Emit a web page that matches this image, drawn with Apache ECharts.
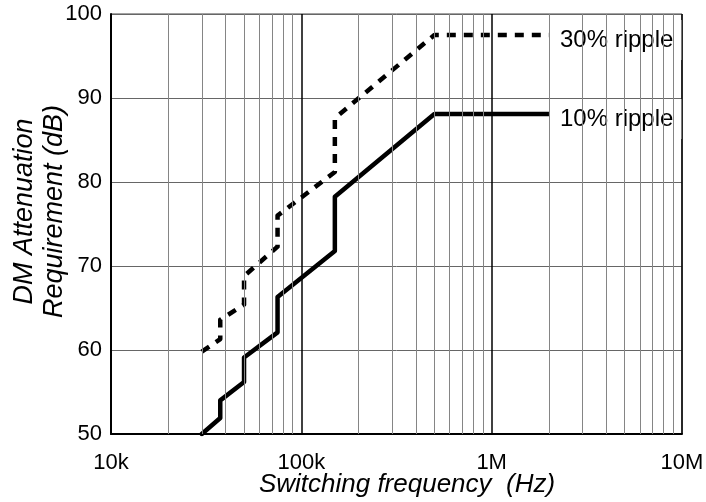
<!DOCTYPE html>
<html>
<head>
<meta charset="utf-8">
<script src="https://cdn.jsdelivr.net/npm/echarts@6/dist/echarts.min.js"></script>
<style>
html,body{margin:0;padding:0;background:#fff;}
#chart{width:706px;height:502px;}
</style>
</head>
<body>
<div id="chart"></div>
<script>
// Data (frequency in Hz, attenuation in dB)
var ripple10 = [
  [30000, 50.0], [37500, 51.9], [37500, 54.0], [50000, 56.2], [50000, 59.1],
  [75000, 62.1], [75000, 66.3], [150000, 71.8], [150000, 78.25],
  [500000, 88.1], [2000000, 88.1]
];
var ripple30 = [
  [30000, 59.8], [37500, 61.3], [37500, 63.6], [50000, 65.4], [50000, 68.8],
  [75000, 72.3], [75000, 76.0], [150000, 81.2], [150000, 87.6],
  [500000, 97.5], [2000000, 97.5]
];
var seriesNames = ['10% ripple', '30% ripple'];
var xTickValues = [10000, 100000, 1000000, 10000000];
var xTickLabels = ['10k', '100k', '1M', '10M'];
var minorGridFreqs = [
  20000, 30000, 40000, 50000, 60000, 70000, 80000, 90000,
  200000, 300000, 400000, 500000, 600000, 700000, 800000, 900000,
  2000000, 3000000, 4000000, 5000000, 6000000, 7000000, 8000000, 9000000
];
var yTicks = [50, 60, 70, 80, 90, 100];

var FONT = 'Liberation Sans, Arial, sans-serif';
var chart = echarts.init(document.getElementById('chart'), null, {renderer: 'canvas'});

var option = {
  animation: false,
  backgroundColor: '#fff',
  grid: {
    left: 111, right: 24, top: 14, bottom: 68,
    containLabel: false, outerBoundsMode: 'none',
    show: true, borderColor: '#444', borderWidth: 1
  },
  xAxis: {
    type: 'log', logBase: 10, min: xTickValues[0], max: xTickValues[xTickValues.length - 1],
    name: 'Switching frequency  (Hz)',
    nameLocation: 'middle', nameGap: 38, nameMoveOverlap: false,
    nameTextStyle: {fontFamily: FONT, fontSize: 26, fontStyle: 'italic', color: '#000', padding: [0, 0, 0, 21]},
    axisLine: {show: true, lineStyle: {color: '#000', width: 2}},
    axisTick: {show: false},
    axisLabel: {
      fontFamily: FONT, fontSize: 22, color: '#000', margin: 18,
      formatter: function (v) {
        var i = xTickValues.indexOf(Math.round(v));
        return i >= 0 ? xTickLabels[i] : '';
      }
    },
    splitLine: {show: true, lineStyle: {color: '#000', width: 1.5}}
  },
  yAxis: {
    type: 'value', min: yTicks[0], max: yTicks[yTicks.length - 1], interval: 10,
    name: 'DM Attenuation\nRequirement (dB)',
    nameLocation: 'middle', nameGap: 42, nameMoveOverlap: false,
    nameTextStyle: {fontFamily: FONT, fontSize: 27, fontStyle: 'italic', color: '#000', lineHeight: 30, padding: [0, 0, 0, 25]},
    axisLine: {show: true, lineStyle: {color: '#000', width: 2}},
    axisTick: {show: false},
    axisLabel: {fontFamily: FONT, fontSize: 22, color: '#000', margin: 9},
    splitLine: {show: true, lineStyle: {color: '#666', width: 1}}
  },
  series: [
    {
      type: 'line', name: 'minorGrid', data: [], z: 1, silent: true,
      markLine: {
        silent: true, symbol: 'none', animation: false,
        label: {show: false},
        lineStyle: {color: '#858585', width: 1, type: 'solid'},
        data: minorGridFreqs.map(function (f) { return {xAxis: f}; })
      }
    },
    {
      type: 'line', name: seriesNames[0], data: ripple10, z: 3,
      showSymbol: false, symbol: 'none',
      lineStyle: {color: '#000', width: 4.5, join: 'round', cap: 'round'},
      endLabel: {
        show: true, formatter: seriesNames[0], distance: 0, offset: [0, 5],
        fontFamily: FONT, fontSize: 24, color: '#000',
        backgroundColor: '#fff', padding: [8, 8, 8, 11], lineHeight: 24
      }
    },
    {
      type: 'line', name: seriesNames[1], data: ripple30, z: 3,
      showSymbol: false, symbol: 'none',
      lineStyle: {color: '#000', width: 4.5, type: [9, 8], cap: 'butt', join: 'round'},
      endLabel: {
        show: true, formatter: seriesNames[1], distance: 0, offset: [0, 5],
        fontFamily: FONT, fontSize: 24, color: '#000',
        backgroundColor: '#fff', padding: [8, 8, 8, 11], lineHeight: 24
      }
    }
  ]
};
chart.setOption(option);
</script>
</body>
</html>
